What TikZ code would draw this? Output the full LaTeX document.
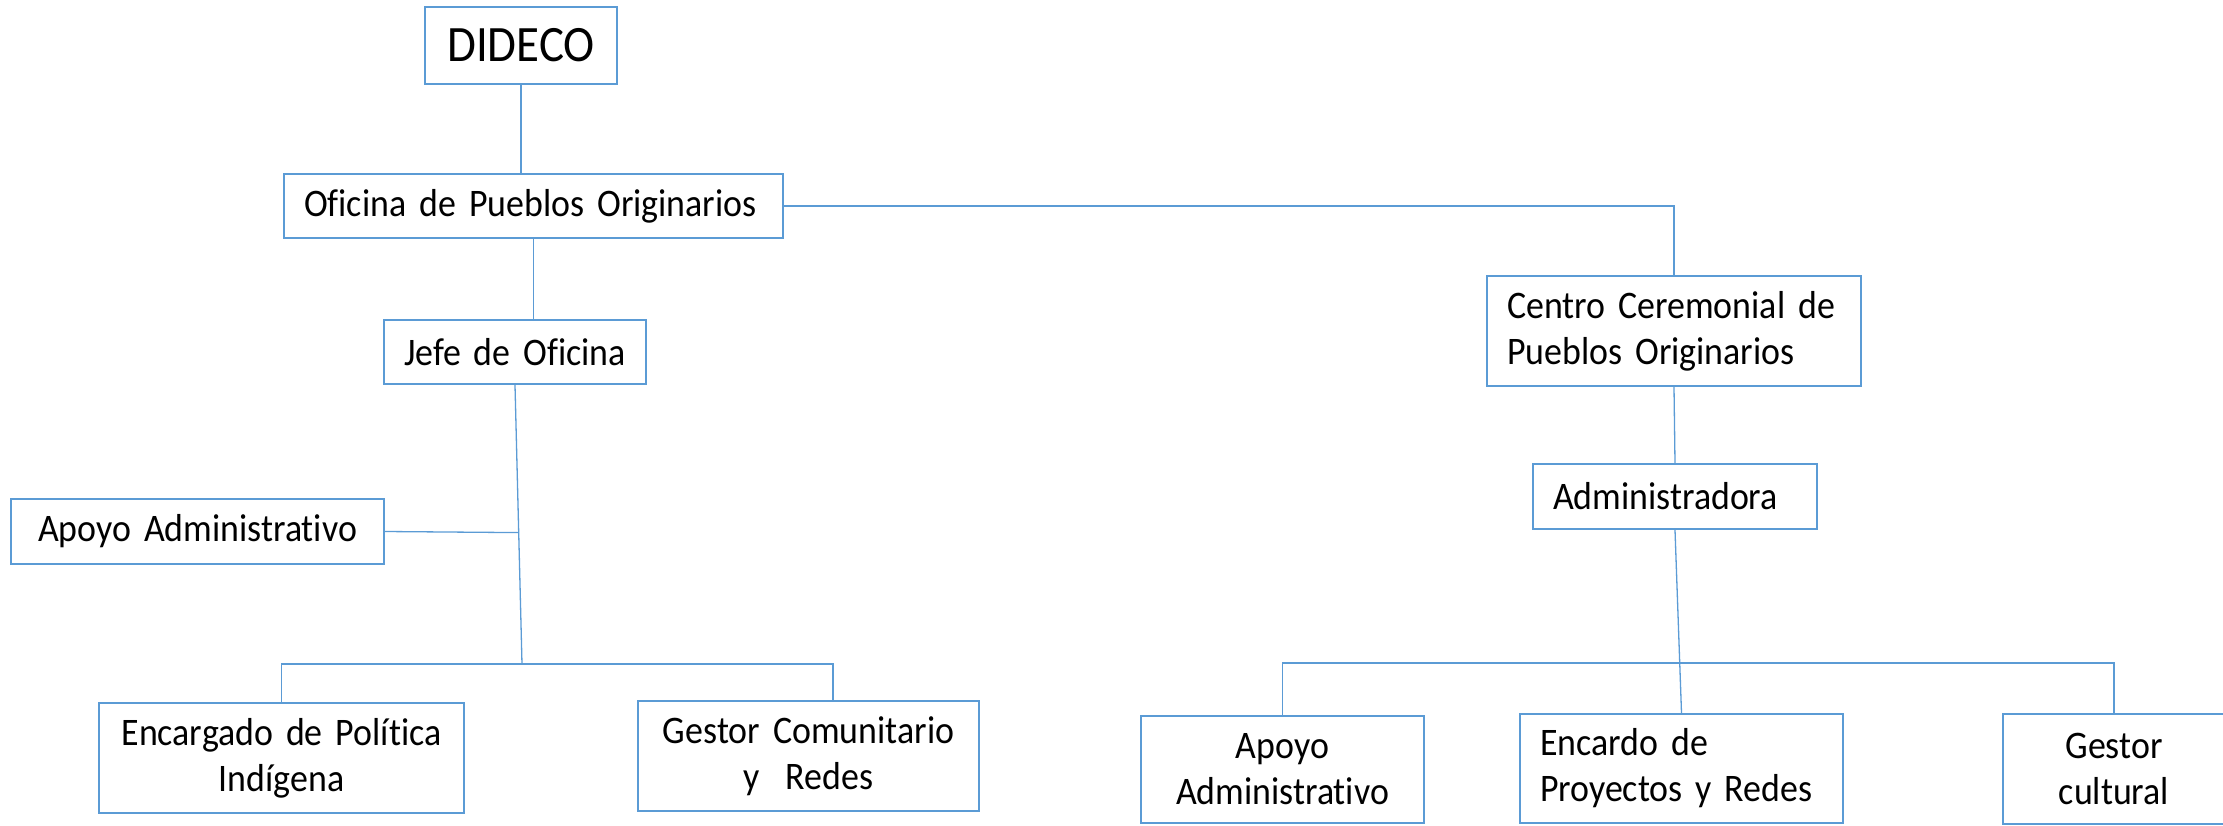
\documentclass[tikz,border=0pt]{standalone}
\usepackage{fontspec}
\setmainfont{Carlito}[FakeStretch=0.92, Ligatures={NoCommon}]
\usepackage{xcolor}
\usepackage{tikz}
\usetikzlibrary{calc}

\definecolor{azulcaja}{HTML}{5B9BD5}
\tikzset{
  cajon/.style={draw=azulcaja, line width=1pt, fill=white, inner xsep=8pt, inner ysep=0pt,
    font=\fontsize{19.5}{23}\selectfont},
  enlace/.style={draw=azulcaja, line width=0.65pt}
}

\begin{document}
\begin{tikzpicture}[x=0.5pt, y=-0.5pt]
 \useasboundingbox (0,0) rectangle (2223,825);
 \clip (0,0) rectangle (2223,825);
 % rama izquierda
 \node[cajon, minimum width=96pt, minimum height=38.5pt, font=\fontsize{25.5}{29}\selectfont] (dideco) at (521,45.5) {DIDECO};
 \node[cajon, minimum height=32pt, text width=233.5pt, align=left] (oficina) at (533.5,206) {\hspace*{2pt}Oficina de Pueblos Originarios};
 \node[cajon, minimum height=32pt, text width=115pt, align=left] (jefe) at (515,352) {\hspace*{2pt}Jefe de Oficina};
 \node[cajon, minimum height=32.5pt, text width=170.5pt, align=center] (apoyoA) at (197.5,531.5) {Apoyo Administrativo};
 \node[cajon, minimum height=55pt, text width=166.5pt, align=center] (encargado) at (281.5,758) {Encargado de Política\\Indígena};
 \node[cajon, minimum height=55pt, text width=154.5pt, align=center] (gestorC) at (808.5,756) {Gestor Comunitario\\y~~Redes};
 % rama derecha
 \node[cajon, minimum height=55pt, text width=171pt, align=left] (centro) at (1674,331) {\hspace*{2pt}Centro Ceremonial de\\\hspace*{2pt}Pueblos Originarios};
 \node[cajon, minimum height=32.5pt, text width=126pt, align=left] (admin) at (1675,496.5) {\hspace*{2pt}Administradora};
 \node[cajon, minimum height=53.5pt, text width=125.5pt, align=center] (apoyoB) at (1282.5,769.5) {Apoyo\\Administrativo};
 \node[cajon, minimum height=54.5pt, text width=145.5pt, align=left] (encardo) at (1681.5,768.5) {\hspace*{2pt}Encardo de\\\hspace*{2pt}Proyectos y Redes};
 \node[cajon, minimum height=55pt, text width=95pt, align=center] (gestorK) at (2114,769) {Gestor\\cultural};

 \coordinate (nudoI) at (522,664);
 \coordinate (nudoA) at ($(jefe.south)!0.529!(nudoI)$);
 \coordinate (nudoD) at (1680,663);

 \draw[enlace] (dideco.south) -- (dideco.south |- oficina.north);
 \draw[enlace] (oficina.south) -- (oficina.south |- jefe.north);
 \draw[enlace] (oficina.east) -| (centro.north);
 \draw[enlace] (centro.south) -- (admin.north);
 \draw[enlace] (jefe.south) -- (nudoI);
 \draw[enlace] (apoyoA.east) -- (nudoA);
 \draw[enlace] (encargado.north) |- (nudoI) -| ([xshift=12.25pt]gestorC.north);
 \draw[enlace] (admin.south) -- (encardo.north);
 \draw[enlace] (apoyoB.north) |- (nudoD) -| (gestorK.north);
\end{tikzpicture}
\end{document}
